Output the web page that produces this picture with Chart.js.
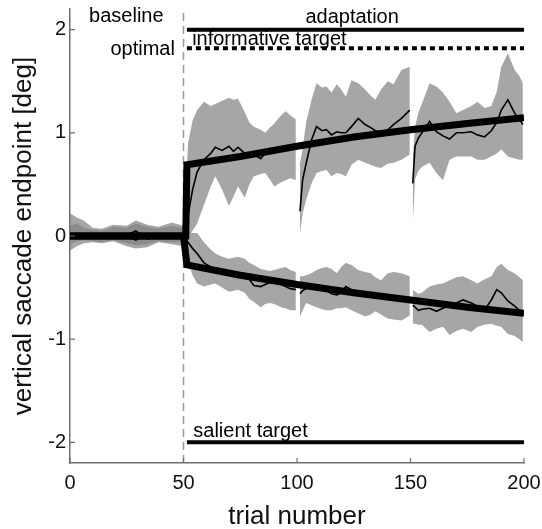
<!DOCTYPE html>
<html>
<head>
<meta charset="utf-8">
<script src="https://cdn.jsdelivr.net/npm/chart.js@4.4.1/dist/chart.umd.min.js"></script>
<style>
  body { margin: 0; background: #fff; }
  #wrap { width: 542px; height: 529px; }
</style>
</head>
<body>
<div id="wrap"><canvas id="chart" width="542" height="529"></canvas></div>
<script>
// trial numbers, one array per block (baseline + first adaptation block, then two more blocks)
const trialsBlock1 = [0, 3, 6, 10, 14, 19, 25, 29, 34, 39, 45, 50, 51, 52, 54, 56, 59, 62, 64, 67, 70, 72, 74, 77, 79, 81, 84, 86, 88, 90, 93, 95, 97, 99.5];
const trialsBlock2 = [101.3, 102.5, 104, 106.4, 108.6, 111, 113, 115.2, 117.5, 119.5, 121.5, 124, 127, 130, 132.5, 134.5, 137, 140, 142.5, 146, 149.7];
const trialsBlock3 = [151, 152, 153.5, 155, 158.4, 161.4, 164.3, 167.2, 170.2, 173.1, 176.8, 179.5, 182.6, 185.6, 188, 190, 192.9, 195.9, 198, 199.5];

// informative-target group (goes up)
const infoTop1 = [0.22, 0.18, 0.15, 0.08, 0.07, 0.11, 0.10, 0.15, 0.11, 0.09, 0.13, 0.10, 0.45, 0.90, 1.12, 1.22, 1.30, 1.26, 1.28, 1.31, 1.34, 1.32, 1.33, 1.20, 1.10, 1.06, 1.03, 1.00, 1.05, 1.09, 1.17, 1.21, 1.17, 1.13];
const infoBottom1 = [-0.08, -0.05, -0.04, -0.05, -0.06, -0.04, -0.07, -0.09, -0.08, -0.05, -0.06, -0.05, -0.02, 0.00, 0.05, 0.12, 0.30, 0.48, 0.58, 0.45, 0.29, 0.38, 0.48, 0.37, 0.50, 0.58, 0.60, 0.61, 0.55, 0.48, 0.52, 0.54, 0.56, 0.54];
const infoMean1 = [0.02, 0.01, 0.00, 0.02, 0.00, 0.02, 0.01, 0.05, -0.03, 0.01, 0.00, 0.00, 0.06, 0.20, 0.45, 0.62, 0.74, 0.80, 0.86, 0.83, 0.87, 0.82, 0.86, 0.80, 0.78, 0.79, 0.75, 0.80, 0.82, 0.84, 0.86, 0.87, 0.85, 0.86];
const infoTop2 = [0.70, 0.85, 1.10, 1.32, 1.48, 1.44, 1.45, 1.39, 1.47, 1.42, 1.35, 1.51, 1.48, 1.42, 1.36, 1.32, 1.42, 1.50, 1.47, 1.61, 1.64];
const infoBottom2 = [0.02, 0.22, 0.35, 0.51, 0.61, 0.63, 0.64, 0.58, 0.61, 0.60, 0.58, 0.69, 0.74, 0.71, 0.69, 0.67, 0.66, 0.70, 0.71, 0.74, 0.79];
const infoMean2 = [0.24, 0.55, 0.70, 0.93, 1.06, 1.02, 1.03, 0.98, 1.01, 1.00, 1.00, 1.06, 1.14, 1.08, 1.05, 1.02, 1.00, 1.03, 1.08, 1.14, 1.22];
const infoTop3 = [0.75, 1.06, 1.20, 1.28, 1.48, 1.45, 1.39, 1.30, 1.19, 1.22, 1.26, 1.30, 1.24, 1.26, 1.40, 1.64, 1.77, 1.61, 1.55, 1.48];
const infoBottom3 = [0.12, 0.55, 0.63, 0.67, 0.71, 0.61, 0.54, 0.74, 0.77, 0.77, 0.77, 0.74, 0.74, 0.77, 0.80, 0.84, 0.77, 0.75, 0.74, 0.74];
const infoMean3 = [0.51, 0.87, 0.95, 1.00, 1.11, 1.01, 0.97, 0.94, 1.00, 1.00, 1.01, 0.98, 0.96, 1.02, 1.10, 1.22, 1.32, 1.19, 1.13, 1.08];

// salient-target group (goes down)
const salTop1 = [0.10, 0.12, 0.08, 0.06, 0.05, 0.09, 0.08, 0.12, 0.09, 0.07, 0.10, 0.08, 0.06, 0.04, 0.03, 0.03, -0.06, -0.13, -0.17, -0.20, -0.22, -0.21, -0.20, -0.22, -0.26, -0.28, -0.32, -0.33, -0.34, -0.33, -0.31, -0.30, -0.33, -0.35];
const salBottom1 = [-0.14, -0.10, -0.07, -0.06, -0.07, -0.05, -0.10, -0.12, -0.11, -0.06, -0.08, -0.10, -0.15, -0.25, -0.38, -0.46, -0.49, -0.47, -0.46, -0.50, -0.54, -0.53, -0.52, -0.55, -0.61, -0.64, -0.69, -0.66, -0.65, -0.66, -0.69, -0.70, -0.72, -0.72];
const salMean1 = [-0.02, 0.00, -0.01, -0.01, 0.00, -0.02, 0.00, -0.04, 0.02, -0.01, 0.00, 0.00, -0.03, -0.06, -0.12, -0.17, -0.26, -0.30, -0.32, -0.33, -0.35, -0.35, -0.37, -0.39, -0.42, -0.48, -0.49, -0.47, -0.45, -0.44, -0.47, -0.49, -0.51, -0.52];
const salTop2 = [-0.39, -0.39, -0.38, -0.36, -0.33, -0.31, -0.30, -0.32, -0.36, -0.30, -0.26, -0.28, -0.33, -0.35, -0.36, -0.40, -0.43, -0.36, -0.35, -0.36, -0.39];
const salBottom2 = [-0.78, -0.72, -0.65, -0.67, -0.69, -0.71, -0.72, -0.72, -0.70, -0.70, -0.69, -0.72, -0.75, -0.78, -0.76, -0.73, -0.76, -0.80, -0.81, -0.82, -0.77];
const salMean2 = [-0.56, -0.53, -0.51, -0.49, -0.50, -0.51, -0.53, -0.56, -0.57, -0.55, -0.49, -0.52, -0.54, -0.57, -0.57, -0.57, -0.58, -0.59, -0.60, -0.61, -0.61];
const salTop3 = [-0.52, -0.54, -0.56, -0.55, -0.49, -0.47, -0.46, -0.43, -0.40, -0.39, -0.43, -0.46, -0.42, -0.39, -0.30, -0.27, -0.33, -0.36, -0.40, -0.43];
const salBottom3 = [-0.85, -0.85, -0.86, -0.86, -0.93, -0.90, -0.88, -0.96, -0.92, -0.90, -0.93, -0.88, -0.86, -0.85, -0.87, -0.88, -0.95, -0.97, -1.00, -1.03];
const salMean3 = [-0.67, -0.69, -0.72, -0.71, -0.70, -0.73, -0.70, -0.67, -0.65, -0.62, -0.65, -0.68, -0.72, -0.62, -0.52, -0.55, -0.63, -0.68, -0.72, -0.75];

// model fits
const fitTrialsInfo = [0, 51, 51.5, 75, 100, 125, 150, 175, 200];
const fitInfo = [0, 0, 0.69, 0.77, 0.87, 0.96, 1.03, 1.09, 1.145];
const fitTrialsSal = [0, 50, 51.5, 75, 100, 125, 150, 175, 200];
const fitSal = [0, 0, -0.28, -0.38, -0.47, -0.55, -0.62, -0.69, -0.75];

// target positions during adaptation
const adaptTrials = [51.5, 200];
const informativeTarget = 2;
const optimalEndpoint = 1.82;
const salientTarget = -2;
const phaseBoundary = 50;

const xTicks = [0, 50, 100, 150, 200];
const yTicks = [-2, -1, 0, 1, 2];

const FONT = '"Liberation Sans", Arial, sans-serif';
const BAND = 'rgba(128,128,128,0.7)';

function pts(xs, ys) {
  return xs.map((x, i) => ({ x: x, y: ys[i] }));
}

const bands = [
  [trialsBlock1, infoTop1, infoBottom1, infoMean1],
  [trialsBlock2, infoTop2, infoBottom2, infoMean2],
  [trialsBlock3, infoTop3, infoBottom3, infoMean3],
  [trialsBlock1, salTop1, salBottom1, salMean1],
  [trialsBlock2, salTop2, salBottom2, salMean2],
  [trialsBlock3, salTop3, salBottom3, salMean3],
];

const datasets = [];
const none = 'rgba(0,0,0,0)';
bands.forEach(([xs, top, bottom]) => {
  datasets.push({ data: pts(xs, top), fill: '+1', backgroundColor: BAND, borderColor: none, borderWidth: 0, order: 5 });
  datasets.push({ data: pts(xs, bottom), fill: false, borderColor: none, borderWidth: 0, order: 5 });
});
bands.forEach(([xs, , , mean]) => {
  datasets.push({ data: pts(xs, mean), borderColor: '#000', borderWidth: 1.6, order: 3 });
});
datasets.push({ data: pts(fitTrialsInfo, fitInfo), borderColor: '#000', borderWidth: 7, borderJoinStyle: 'miter', order: 2 });
datasets.push({ data: pts(fitTrialsSal, fitSal), borderColor: '#000', borderWidth: 7, borderJoinStyle: 'miter', order: 2 });
datasets.push({ data: pts(adaptTrials, adaptTrials.map(() => informativeTarget)), borderColor: '#000', borderWidth: 4, order: 1 });
datasets.push({ data: pts(adaptTrials, adaptTrials.map(() => optimalEndpoint)), borderColor: '#000', borderWidth: 4, borderDash: [5, 4], order: 1 });
datasets.push({ data: pts(adaptTrials, adaptTrials.map(() => salientTarget)), borderColor: '#000', borderWidth: 4, order: 1 });
datasets.push({ data: pts([phaseBoundary, phaseBoundary], [-2.2, 2.2]), borderColor: '#999', borderWidth: 1.5, borderDash: [8, 5], order: 4 });

const annotations = [
  { text: 'baseline', x: 8.4, y: 2.07, align: 'left' },
  { text: 'adaptation', x: 103.7, y: 2.065, align: 'left' },
  { text: 'optimal', x: 46.2, y: 1.757, align: 'right' },
  { text: 'informative target', x: 53.8, y: 1.855, align: 'left' },
  { text: 'salient target', x: 54.3, y: -1.95, align: 'left' },
];

// inward tick marks + text labels inside the plot
const decorations = {
  id: 'decorations',
  afterDraw(chart) {
    const { ctx, chartArea, scales: { x, y } } = chart;
    ctx.save();
    ctx.strokeStyle = '#6e6e6e';
    ctx.lineWidth = 1.2;
    ctx.beginPath();
    xTicks.forEach(v => {
      const px = x.getPixelForValue(v);
      ctx.moveTo(px, chartArea.bottom);
      ctx.lineTo(px, chartArea.bottom - 5);
    });
    yTicks.forEach(v => {
      const py = y.getPixelForValue(v);
      ctx.moveTo(chartArea.left, py);
      ctx.lineTo(chartArea.left + 5, py);
    });
    ctx.stroke();

    ctx.fillStyle = '#000';
    ctx.font = '20px ' + FONT;
    ctx.textBaseline = 'alphabetic';
    annotations.forEach(a => {
      ctx.textAlign = a.align;
      ctx.fillText(a.text, x.getPixelForValue(a.x), y.getPixelForValue(a.y));
    });
    ctx.restore();
  }
};

new Chart(document.getElementById('chart'), {
  type: 'line',
  data: { datasets: datasets },
  options: {
    responsive: false,
    animation: false,
    layout: { padding: { top: 9, right: 18, left: 0, bottom: 0 } },
    elements: {
      point: { radius: 0, hoverRadius: 0 },
      line: { tension: 0, fill: false },
    },
    plugins: { legend: { display: false }, tooltip: { enabled: false } },
    scales: {
      x: {
        type: 'linear',
        min: 0,
        max: 200,
        afterBuildTicks: s => { s.ticks = xTicks.map(v => ({ value: v })); },
        afterFit: s => { s.height = 66; s.paddingLeft = 0; s.paddingRight = 0; },
        grid: { display: false, drawTicks: false },
        border: { display: true, color: '#6e6e6e', width: 1.5 },
        ticks: { padding: 8, color: '#111', font: { size: 20, family: FONT }, maxRotation: 0 },
        title: { display: true, text: 'trial number', color: '#111', font: { size: 26, family: FONT }, padding: { top: 0, bottom: -3 } },
      },
      y: {
        type: 'linear',
        min: -2.2,
        max: 2.2,
        afterBuildTicks: s => { s.ticks = yTicks.map(v => ({ value: v })); },
        afterFit: s => { s.width = 70; s.paddingTop = 0; s.paddingBottom = 0; },
        grid: { display: false, drawTicks: false },
        border: { display: true, color: '#6e6e6e', width: 1.5 },
        ticks: { padding: 4, color: '#111', font: { size: 20, family: FONT } },
        title: { display: true, text: 'vertical saccade endpoint [deg]', color: '#111', font: { size: 26, family: FONT }, padding: { top: 8, bottom: 0 } },
      },
    },
  },
  plugins: [decorations],
});
</script>
</body>
</html>
